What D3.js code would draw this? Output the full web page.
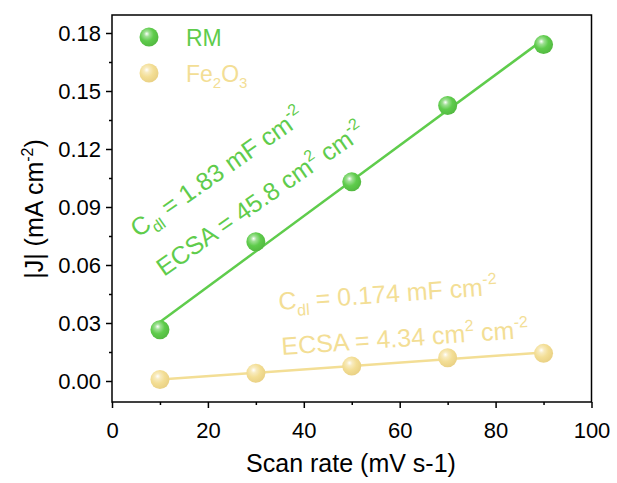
<!DOCTYPE html>
<html><head><meta charset="utf-8">
<script src="https://cdn.jsdelivr.net/npm/d3@7"></script>
<style>body{margin:0;background:#fff}text{font-family:"Liberation Sans",Arial,sans-serif}</style>
</head><body>
<svg id="c" width="617" height="483"></svg>
<script>
const scanRates = [10, 30, 50, 70, 90];
const rmValues = [0.0265, 0.0720, 0.1030, 0.1425, 0.1740];
const fe2o3Values = [0.0008, 0.0040, 0.0077, 0.0120, 0.0143];
const xTicks = [0, 20, 40, 60, 80, 100];
const yTicks = [0, 0.03, 0.06, 0.09, 0.12, 0.15, 0.18];
const green = "#5fcc4c", yellow = "#f3de95";

const svg = d3.select("#c");
const L = 112, R = 591.5, T = 15, B = 402;
const x = d3.scaleLinear().domain([0, 100]).range([L, R]);
const y = d3.scaleLinear().domain([0, 0.18]).range([381, 33]);

const defs = svg.append("defs");
function grad(id, base, dark) {
  const g = defs.append("radialGradient").attr("id", id).attr("cx", "40%").attr("cy", "38%").attr("r", "65%").attr("fx", "38%").attr("fy", "33%");
  g.append("stop").attr("offset", "0%").attr("stop-color", "#ffffff");
  g.append("stop").attr("offset", "22%").attr("stop-color", d3.interpolateRgb("#fff", base)(0.6));
  g.append("stop").attr("offset", "55%").attr("stop-color", base);
  g.append("stop").attr("offset", "100%").attr("stop-color", dark);
}
grad("gG", green, "#52b840");
grad("gY", yellow, "#e9d083");

svg.append("rect").attr("x", L).attr("y", T).attr("width", R - L).attr("height", B - T)
  .attr("fill", "none").attr("stroke", "#000").attr("stroke-width", 1.5);

const xa = svg.append("g").attr("transform", `translate(0,${B})`)
  .call(d3.axisBottom(x).tickValues(xTicks).tickSize(6).tickFormat(d3.format("d")));
xa.select(".domain").remove();
xa.selectAll("line").attr("stroke-width", 1.5);
xa.selectAll("text").attr("font-size", 22).attr("y", 20).attr("dy", "0.71em").attr("fill", "#000");
const xm = svg.append("g").attr("transform", `translate(0,${B})`)
  .call(d3.axisBottom(x).tickValues([10, 30, 50, 70, 90]).tickSize(3).tickFormat(""));
xm.select(".domain").remove(); xm.selectAll("line").attr("stroke-width", 1.5);

const ya = svg.append("g").attr("transform", `translate(${L},0)`)
  .call(d3.axisLeft(y).tickValues(yTicks).tickSize(6).tickFormat(d3.format(".2f")));
ya.select(".domain").remove();
ya.selectAll("line").attr("stroke-width", 1.5);
ya.selectAll("text").attr("font-size", 22).attr("fill", "#000").attr("x", -11);
const ym = svg.append("g").attr("transform", `translate(${L},0)`)
  .call(d3.axisLeft(y).tickValues([0.015, 0.045, 0.075, 0.105, 0.135, 0.165]).tickSize(3).tickFormat(""));
ym.select(".domain").remove(); ym.selectAll("line").attr("stroke-width", 1.5);

svg.append("text").attr("x", 351).attr("y", 472).attr("text-anchor", "middle").attr("font-size", 25).text("Scan rate (mV s-1)");
const yt = svg.append("text").attr("transform", "translate(43,209) rotate(-90)").attr("text-anchor", "middle").attr("font-size", 25);
yt.append("tspan").text("|J| (mA cm");
yt.append("tspan").attr("font-size", 16).attr("dy", -10).text("-2");
yt.append("tspan").attr("dy", 10).text(")");

function fit(xs, ys) {
  const mx = d3.mean(xs), my = d3.mean(ys);
  const s = d3.sum(xs.map((v, i) => (v - mx) * (ys[i] - my))) / d3.sum(xs.map(v => (v - mx) ** 2));
  return v => my + s * (v - mx);
}
const line = d3.line().x(d => x(d[0])).y(d => y(d[1]));
[[rmValues, green], [fe2o3Values, yellow]].forEach(([vals, col]) => {
  const f = fit(scanRates, vals);
  svg.append("path").attr("d", line([[10, f(10)], [90, f(90)]])).attr("stroke", col).attr("stroke-width", 2.5).attr("fill", "none");
});
function dots(vals, gid) {
  svg.append("g").selectAll("circle").data(scanRates).join("circle")
    .attr("cx", d => x(d)).attr("cy", (d, i) => y(vals[i])).attr("r", 9.5).attr("fill", `url(#${gid})`);
}
dots(fe2o3Values, "gY");
dots(rmValues, "gG");

svg.append("circle").attr("cx", 149).attr("cy", 37).attr("r", 9.5).attr("fill", "url(#gG)");
svg.append("circle").attr("cx", 149).attr("cy", 73).attr("r", 9.5).attr("fill", "url(#gY)");
svg.append("text").attr("x", 186).attr("y", 46).attr("font-size", 23).attr("fill", green).text("RM");
const lf = svg.append("text").attr("x", 186).attr("y", 82).attr("font-size", 23).attr("fill", yellow);
lf.append("tspan").text("Fe");
lf.append("tspan").attr("font-size", 15).attr("dy", 6).text("2");
lf.append("tspan").attr("dy", -6).text("O");
lf.append("tspan").attr("font-size", 15).attr("dy", 6).text("3");

function annot(tx, ty, ang, col, parts) {
  const t = svg.append("text").attr("transform", `translate(${tx},${ty}) rotate(${ang})`).attr("font-size", 25).attr("fill", col);
  parts.forEach(p => {
    const s = t.append("tspan").text(p.t);
    if (p.sub) s.attr("font-size", 16).attr("dy", 7);
    if (p.sup) s.attr("font-size", 16).attr("dy", -11);
    if (p.back) s.attr("dy", p.back);
  });
}
annot(138, 238, -35, green, [{t: "C"}, {t: "dl", sub: 1}, {t: " = 1.83 mF cm", back: -7}, {t: "-2", sup: 1}]);
annot(164, 277, -35, green, [{t: "ECSA = 45.8 cm"}, {t: "2", sup: 1}, {t: " cm", back: 11}, {t: "-2", sup: 1}]);
annot(279, 310, -4, yellow, [{t: "C"}, {t: "dl", sub: 1}, {t: " = 0.174 mF cm", back: -7}, {t: "-2", sup: 1}]);
annot(282, 355, -4, yellow, [{t: "ECSA = 4.34 cm"}, {t: "2", sup: 1}, {t: " cm", back: 11}, {t: "-2", sup: 1}]);
</script>
</body></html>
